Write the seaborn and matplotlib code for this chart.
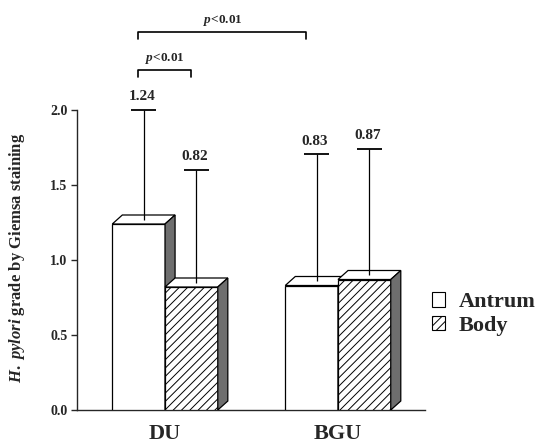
import matplotlib
matplotlib.use("Agg")
from matplotlib import pyplot as plt
from matplotlib.patches import Polygon, Patch
import seaborn as sns
import pandas as pd
import numpy as np

groups = ["DU", "DU", "BGU", "BGU"]
sites = ["Antrum", "Body", "Antrum", "Body"]
means = [1.24, 0.82, 0.83, 0.87]
sds = [0.76, 0.78, 0.88, 0.87]
labels = ["1.24", "0.82", "0.83", "0.87"]

df = pd.DataFrame({"group": groups, "site": sites, "grade": means, "sd": sds})

sns.set_style("white")
plt.rcParams["font.family"] = ["Liberation Serif", "DejaVu Serif"]
plt.rcParams["font.weight"] = "bold"
plt.rcParams["mathtext.fontset"] = "custom"
plt.rcParams["mathtext.it"] = "Liberation Serif:italic:bold"
plt.rcParams["mathtext.rm"] = "Liberation Serif:bold"
plt.rcParams["hatch.color"] = "#666666"
plt.rcParams["hatch.linewidth"] = 0.7

fig = plt.figure(figsize=(5.4, 4.45), dpi=100)
ax = fig.add_axes([77 / 540, 35 / 445, 348 / 540, 390 / 445])

sns.barplot(data=df, x="group", y="grade", hue="site", order=["DU", "BGU"],
            hue_order=["Antrum", "Body"], palette=["white", "white"],
            width=0.61, edgecolor="black", linewidth=0.9, legend=False, ax=ax,
            errorbar=None, zorder=3)

ax.set_xlim(-0.509, 1.503)
ax.set_ylim(0, 2.6)

dx, dy = 0.058, 0.06
for ci, cont in enumerate(ax.containers):
    for bar in cont:
        bar.set_zorder(3 + ci)
        if ci == 1:
            bar.set_hatch("////")
        x0 = bar.get_x()
        w = bar.get_width()
        h = bar.get_height()
        top = Polygon([(x0, h), (x0 + dx, h + dy), (x0 + w + dx, h + dy), (x0 + w, h)],
                      closed=True, facecolor="white", edgecolor="black", lw=0.9,
                      zorder=3 + ci)
        side = Polygon([(x0 + w, 0), (x0 + w + dx, dy), (x0 + w + dx, h + dy), (x0 + w, h)],
                       closed=True, facecolor="#6e6e6e", edgecolor="black", lw=0.9,
                       zorder=3 + ci)
        ax.add_patch(top)
        ax.add_patch(side)

# error bars (upper only, cap on top) and value labels
centers = []
for ci, cont in enumerate(ax.containers):
    for gi, bar in enumerate(cont):
        centers.append((gi, ci, bar.get_x() + bar.get_width() / 2 + dx / 2, bar.get_height()))
centers.sort()
label_y = [2.09, 1.69, 1.79, 1.83]
cap = 0.072
for gi, ci, xc, h in centers:
    idx = gi * 2 + ci
    top_val = means[idx] + sds[idx]
    ax.vlines(xc, h + dy / 2, top_val, color="black", lw=0.9, zorder=10)
    ax.hlines(top_val, xc - cap, xc + cap, color="black", lw=1.3, zorder=10)
    ax.text(xc - 0.01, label_y[idx], labels[idx], ha="center", va="center",
            fontsize=11, fontweight="bold")

# significance brackets
def bracket(x1, x2, y, ytxt, tick=0.05):
    ax.plot([x1, x1, x2, x2], [y - tick, y, y, y - tick], color="black", lw=1.2,
            clip_on=False, zorder=10)
    ax.text((x1 + x2) / 2, ytxt, r"$\it{p}$<0.01", ha="center", va="center",
            fontsize=9.5, fontweight="bold")

xa = centers[0][2] - 0.03
xb = centers[1][2] - 0.03
xc2 = centers[2][2] - 0.06
bracket(xa, xb, 2.27, 2.34)
bracket(xa, xc2, 2.52, 2.6)

ax.spines[["top", "right"]].set_visible(False)
ax.spines["left"].set_bounds(0, 2.0)
ax.spines["left"].set_linewidth(1.0)
ax.spines["bottom"].set_linewidth(1.0)
ax.set_yticks([0, 0.5, 1.0, 1.5, 2.0])
ax.set_yticklabels(["0.0", "0.5", "1.0", "1.5", "2.0"], fontsize=10, fontweight="bold")
ax.tick_params(axis="y", direction="out", length=4, width=1.0, left=True, pad=3)
ax.tick_params(axis="x", length=0, pad=10)
for t in ax.get_xticklabels():
    t.set_fontsize(16)
    t.set_fontweight("bold")
ax.set_xlabel("")
ax.set_ylabel(r"$\it{H.\ pylori}$ grade by Giemsa staining", fontsize=12,
              fontweight="bold")
ax.yaxis.set_label_coords(-0.145, 0.39)

handles = [Patch(facecolor="white", edgecolor="black", lw=0.8, label="Antrum"),
           Patch(facecolor="white", edgecolor="black", lw=0.8, hatch="////", label="Body")]
fig.legend(handles=handles, loc="center left", bbox_to_anchor=(412 / 540, 1 - 314 / 445),
           frameon=False, prop={"size": 16, "weight": "bold"}, handlelength=0.6,
           handleheight=0.6, handletextpad=0.6, labelspacing=0.15)

fig.savefig("out.png", dpi=100)
